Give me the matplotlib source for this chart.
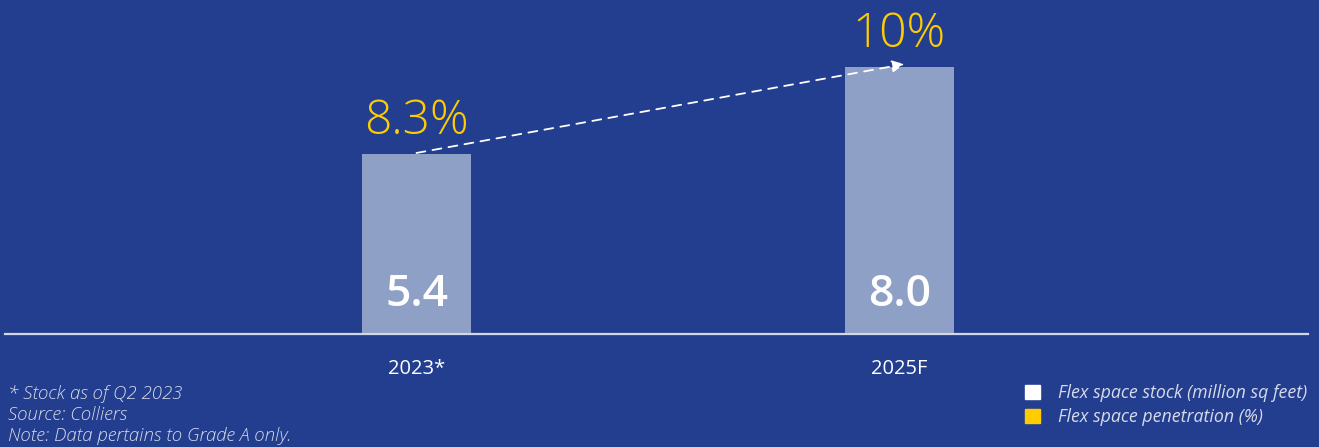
import matplotlib.pyplot as plt
from matplotlib.patches import Patch

plt.rcParams['font.family'] = ['Open Sans', 'DejaVu Sans']

# data
categories = ['2023*', '2025F']
stock = [5.4, 8.0]               # million sq feet
penetration = [8.3, 10]          # %
stock_labels = ['5.4', '8.0']
pen_labels = ['8.3%', '10%']
footnotes = ['* Stock as of Q2 2023', 'Source: Colliers', 'Note: Data pertains to Grade A only.']
legend_labels = ['Flex space stock (million sq feet)', 'Flex space penetration (%)']

bg = '#243e8f'
bar_color = '#8fa0c7'
yellow = '#ffcc00'
note_color = '#d6dbe8'

fig = plt.figure(figsize=(13.19, 4.47), dpi=100, facecolor=bg)
ax = fig.add_axes([5 / 1319, 113 / 447, 1303 / 1319, 334 / 447])
ax.set_facecolor(bg)

x = list(range(len(categories)))
bars = ax.bar(x, stock, width=0.226, color=bar_color, zorder=2)

# values inside bars
for xi, lab in zip(x, stock_labels):
    ax.text(xi, 0.85, lab, ha='center', va='baseline', color='white',
            fontsize=32, fontweight='semibold')

# penetration labels above bars
for xi, h, lab in zip(x, stock, pen_labels):
    ax.text(xi, h + 0.6, lab, ha='center', va='baseline', color=yellow,
            fontsize=34.5, fontweight='light')

# dashed arrow between bar tops
ax.annotate('', xy=(x[1] + 0.01, stock[1] + 0.08), xytext=(x[0], stock[0] + 0.02),
            arrowprops=dict(arrowstyle='-|>', color='white', linestyle=(0, (5, 4)),
                            lw=1.3, mutation_scale=18, shrinkA=0, shrinkB=0))

ax.set_xlim(-0.852, 1.846)
ax.set_ylim(0, 10)
ax.set_xticks(x)
ax.set_xticklabels(categories, color='white', fontsize=14.5)
ax.tick_params(axis='x', length=0, pad=18)
ax.set_yticks([])
for s in ['top', 'right', 'left']:
    ax.spines[s].set_visible(False)
ax.spines['bottom'].set_color('#d3d8e6')
ax.spines['bottom'].set_linewidth(1.6)

# footnotes
for i, t in enumerate(footnotes):
    fig.text(8 / 1319, 1 - (399 + i * 21) / 447, t, color=note_color,
             fontsize=13.4, fontstyle='italic', fontweight='light', va='baseline')

# legend
handles = [Patch(color='white'), Patch(color=yellow)]
leg = fig.legend(handles, legend_labels, loc='upper right',
                 bbox_to_anchor=(1316 / 1319, 1 - 375 / 447), frameon=False,
                 handlelength=0.85, handleheight=0.85, handletextpad=1.0,
                 labelspacing=0.35, borderpad=0,
                 prop=dict(family='Open Sans', style='italic', size=12.8))
for t in leg.get_texts():
    t.set_color(note_color)

fig.savefig('out.png', dpi=100, facecolor=bg)
